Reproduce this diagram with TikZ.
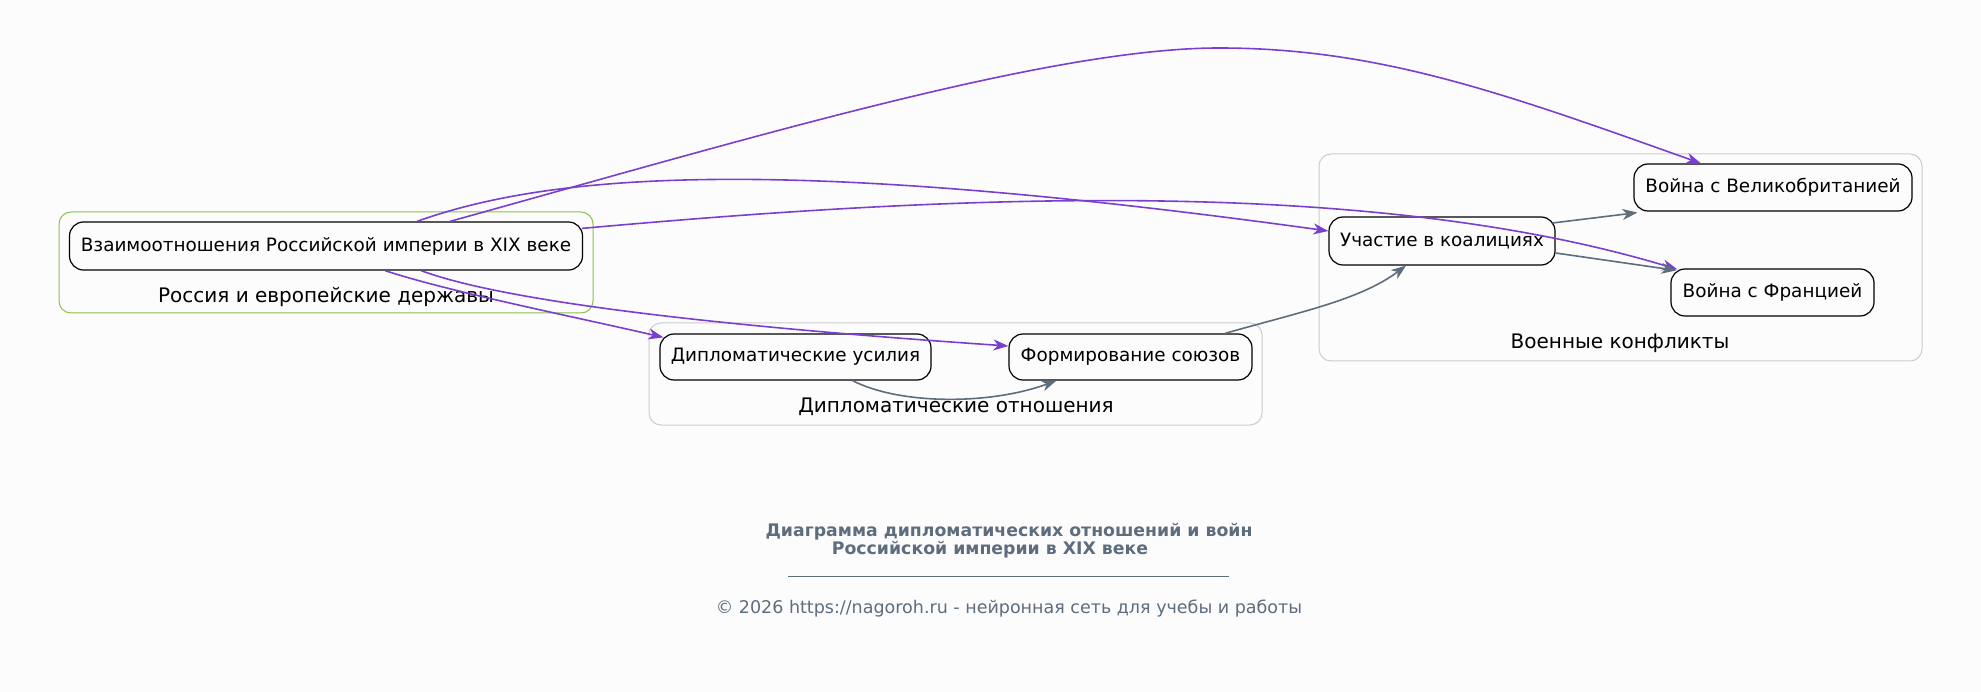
\documentclass[tikz,border=0pt]{standalone}
\usepackage{fontspec}
\setmainfont{DejaVu Sans}
\usetikzlibrary{arrows.meta}
\definecolor{bgc}{HTML}{FDFCFD}
\definecolor{purp}{HTML}{7B3FD0}
\definecolor{slate}{HTML}{5D6D7E}
\definecolor{grn}{HTML}{8BC34A}
\definecolor{clgray}{HTML}{CCCCCC}
\tikzset{
  box/.style={draw=black, line width=1.2pt, rounded corners=14pt, inner sep=0pt,
    font=\fontsize{18.4}{22}\selectfont, minimum height=47pt},
  cluster/.style={rounded corners=12pt, line width=1pt},
  clabel/.style={font=\fontsize{20}{24}\selectfont, inner sep=0pt},
  pedge/.style={draw=purp, line width=1.6pt, -{Stealth[length=15pt,width=11pt,inset=4.5pt]}},
  gedge/.style={draw=slate, line width=1.6pt, -{Stealth[length=15pt,width=11pt,inset=4.5pt]}},
}
\begin{document}
\begin{tikzpicture}[x=1pt,y=-1pt]
\fill[bgc] (0,0) rectangle (1981,692);
\useasboundingbox (0,0) rectangle (1981,692);
% clusters
\draw[cluster, draw=grn] (59,212) rectangle (593,313);
\draw[cluster, draw=clgray] (649,323) rectangle (1262,425);
\draw[cluster, draw=clgray] (1319,154) rectangle (1922,361);
\node[clabel] (l1) at (326,297) {Россия и европейские державы};
\node[clabel] (l2) at (956,407) {Дипломатические отношения};
\node[clabel] (l3) at (1620,343) {Военные конфликты};
% nodes
\node[box, minimum width=513pt, minimum height=48pt] (main) at (326,246) {Взаимоотношения Российской империи в XIX веке};
\node[box, minimum width=271pt, minimum height=46pt] (du) at (795.5,357) {Дипломатические усилия};
\node[box, minimum width=243pt, minimum height=46pt] (fs) at (1130.5,357) {Формирование союзов};
\node[box, minimum width=226pt, minimum height=48pt] (uk) at (1442,241) {Участие в коалициях};
\node[box, minimum width=278pt, minimum height=47pt] (vv) at (1773,187.5) {Война с Великобританией};
\node[box, minimum width=203pt, minimum height=47pt] (vf) at (1772.5,292.5) {Война с Францией};
% purple edges
\draw[pedge] ([xshift=124pt]main.north) .. controls (750,138) and (1050,48) .. (1219,48)
  .. controls (1380,48) and (1506,94) .. ([xshift=-72pt]vv.north);
\draw[pedge] ([xshift=91pt]main.north) .. controls (560,170) and (800,158) .. ([yshift=10pt]uk.west);
\draw[pedge] ([xshift=-1pt,yshift=-7pt]main.north east) .. controls (900,200) and (1350,170) .. ([xshift=7pt,yshift=-1pt]vf.north west);
\draw[pedge] ([xshift=59pt]main.south) .. controls (450,292) and (580,318) .. ([xshift=4pt,yshift=-4pt]du.north west);
\draw[pedge] ([xshift=95pt]main.south) .. controls (500,300) and (700,325) .. ([yshift=11pt]fs.west);
% slate edges
\draw[gedge] ([xshift=57pt]du.south) .. controls (900,405) and (990,405) .. ([xshift=-74pt]fs.south);
\draw[gedge] ([xshift=94.5pt]fs.north) .. controls (1300,312) and (1360,300) .. ([xshift=-36pt]uk.south);
\draw[gedge] ([xshift=-3pt,yshift=18pt]uk.east) -- ([xshift=4pt,yshift=-1pt]vv.south west);
\draw[gedge] ([yshift=-12pt]uk.east) -- ([xshift=6pt,yshift=-2pt]vf.north west);
% title
\node[font=\fontsize{17.3}{20}\selectfont\bfseries, text=slate, inner sep=0pt] (t1) at (1009,532) {Диаграмма дипломатических отношений и войн};
\node[font=\fontsize{17.3}{20}\selectfont\bfseries, text=slate, inner sep=0pt] (t2) at (990,550) {Российской империи в XIX веке};
\draw[slate, line width=0.8pt] (788,576) -- (1229,576);
\node[font=\fontsize{17.5}{20}\selectfont, text=slate, inner sep=0pt] (cp) at (1009,609) {© 2026 https://nagoroh.ru - нейронная сеть для учебы и работы};
\end{tikzpicture}
\end{document}
